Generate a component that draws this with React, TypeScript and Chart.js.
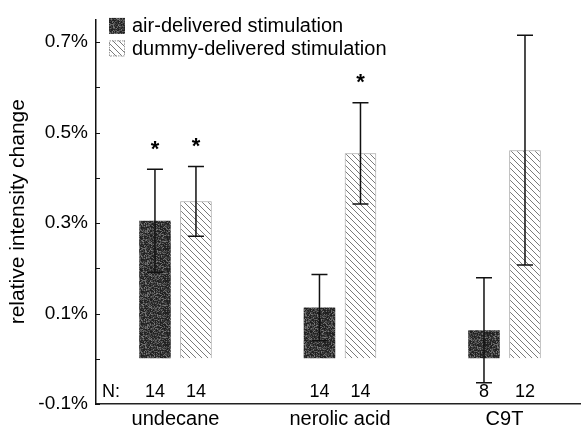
import { useEffect, useRef } from 'react';
import { Chart, registerables } from 'chart.js';

Chart.register(...registerables);

const categories = ['undecane', 'nerolic acid', 'C9T'];
const seriesLabels = ['air-delivered stimulation', 'dummy-delivered stimulation'];
const airMeans = [0.305, 0.113, 0.063];
const airErrors = [0.114, 0.073, 0.116];
const dummyMeans = [0.348, 0.454, 0.461];
const dummyErrors = [0.077, 0.112, 0.254];
const airN = [14, 14, 8];
const dummyN = [14, 14, 12];
const airSignificant = [true, false, false];
const dummySignificant = [true, true, false];
const yLabeledTicks = [-0.1, 0.1, 0.3, 0.5, 0.7];
const yTitle = 'relative intensity change';
const nPrefix = 'N:';

const FONT = '"Liberation Sans", Arial, Helvetica, sans-serif';

function makeStipple(): CanvasPattern | string {
  const S = 32;
  const c = document.createElement('canvas');
  c.width = S;
  c.height = S;
  const g = c.getContext('2d');
  if (!g) return '#3c3c3c';
  const img = g.createImageData(S, S);
  for (let j = 0; j < S; j++) {
    for (let i = 0; i < S; i++) {
      const s = Math.sin(i * 12.9898 + j * 78.233) * 43758.5453;
      const h = s - Math.floor(s);
      const v = Math.round(30 + h * h * 95);
      const k = (j * S + i) * 4;
      img.data[k] = v;
      img.data[k + 1] = v;
      img.data[k + 2] = v;
      img.data[k + 3] = 255;
    }
  }
  g.putImageData(img, 0, 0);
  const p = g.createPattern(c, 'repeat');
  return p || '#3c3c3c';
}

function makeHatch(): CanvasPattern | string {
  const s = 6;
  const c = document.createElement('canvas');
  c.width = s;
  c.height = s;
  const g = c.getContext('2d');
  if (!g) return '#eeeeee';
  g.fillStyle = '#ffffff';
  g.fillRect(0, 0, s, s);
  g.strokeStyle = '#7a7a7a';
  g.lineWidth = 1;
  g.beginPath();
  for (const k of [-s, 0, s]) {
    g.moveTo(k, 0);
    g.lineTo(k + s, s);
  }
  g.stroke();
  const p = g.createPattern(c, 'repeat');
  return p || '#eeeeee';
}

export default function App() {
  const ref = useRef<HTMLCanvasElement | null>(null);

  useEffect(() => {
    if (!ref.current) return;
    const stipple = makeStipple();
    const hatch = makeHatch();

    const annotate = {
      id: 'annotate',
      afterDatasetsDraw(chart: any) {
        const ctx = chart.ctx as CanvasRenderingContext2D;
        const ys = chart.scales.y;
        const area = chart.chartArea;
        const means = [airMeans, dummyMeans];
        const errs = [airErrors, dummyErrors];
        const sig = [airSignificant, dummySignificant];
        const ns = [airN, dummyN];
        ctx.save();
        for (let d = 0; d < 2; d++) {
          const meta = chart.getDatasetMeta(d);
          meta.data.forEach((el: any, i: number) => {
            const x = el.x;
            const top = ys.getPixelForValue(means[d][i] + errs[d][i]);
            const bot = ys.getPixelForValue(means[d][i] - errs[d][i]);
            ctx.strokeStyle = '#111';
            ctx.lineWidth = 1.5;
            ctx.beginPath();
            ctx.moveTo(x, top);
            ctx.lineTo(x, bot);
            ctx.moveTo(x - 8, top);
            ctx.lineTo(x + 8, top);
            ctx.moveTo(x - 8, bot);
            ctx.lineTo(x + 8, bot);
            ctx.stroke();
            ctx.fillStyle = '#000';
            if (sig[d][i]) {
              ctx.font = `bold 22px ${FONT}`;
              ctx.textAlign = 'center';
              ctx.textBaseline = 'alphabetic';
              ctx.fillText('*', x, top - 13.5);
            }
            ctx.font = `18px ${FONT}`;
            ctx.textAlign = 'center';
            ctx.textBaseline = 'middle';
            ctx.fillText(String(ns[d][i]), x, area.bottom - 12);
          });
        }
        ctx.fillStyle = '#000';
        ctx.font = `18px ${FONT}`;
        ctx.textAlign = 'left';
        ctx.textBaseline = 'middle';
        ctx.fillText(nPrefix, area.left + 6, area.bottom - 12);

        // inward tick marks on the y axis
        ctx.strokeStyle = '#111';
        ctx.lineWidth = 1;
        ctx.beginPath();
        ys.ticks.forEach((t: any) => {
          const py = Math.round(ys.getPixelForValue(t.value)) + 0.5;
          ctx.moveTo(area.left, py);
          ctx.lineTo(area.left + 4, py);
        });
        ctx.stroke();

        // legend
        const bx = area.left + 13;
        const rows = [
          { y: area.top - 1.5, fill: stipple, border: null as string | null },
          { y: area.top + 21, fill: hatch, border: '#9a9a9a' },
        ];
        rows.forEach((r, k) => {
          ctx.fillStyle = r.fill as any;
          ctx.fillRect(bx, r.y, 16, 16);
          if (r.border) {
            ctx.strokeStyle = r.border;
            ctx.lineWidth = 1;
            ctx.setLineDash([1.5, 1]);
            ctx.strokeRect(bx + 0.5, r.y + 0.5, 15, 15);
            ctx.setLineDash([]);
          }
          ctx.fillStyle = '#000';
          ctx.font = `20px ${FONT}`;
          ctx.textAlign = 'left';
          ctx.textBaseline = 'middle';
          ctx.fillText(seriesLabels[k], area.left + 36, r.y + 9);
        });
        ctx.restore();
      },
    };

    const chart = new Chart(ref.current, {
      type: 'bar',
      data: {
        datasets: [
          {
            label: seriesLabels[0],
            data: airMeans.map((v, i) => ({ x: i, y: v })),
            backgroundColor: stipple as any,
            borderWidth: 0,
            categoryPercentage: 0.4985,
            barPercentage: 0.77,
          },
          {
            label: seriesLabels[1],
            data: dummyMeans.map((v, i) => ({ x: i, y: v })),
            backgroundColor: hatch as any,
            borderColor: '#a0a0a0',
            borderWidth: 1,
            categoryPercentage: 0.4985,
            barPercentage: 0.77,
          },
        ],
      },
      options: {
        responsive: false,
        animation: false,
        devicePixelRatio: 1,
        layout: { padding: { top: 13, right: 1, left: 0, bottom: 0 } },
        plugins: {
          legend: { display: false },
          tooltip: { enabled: false },
        },
        scales: {
          x: {
            type: 'linear',
            offset: false,
            min: -0.483,
            max: 2.459,
            grid: { display: true, drawOnChartArea: false, drawTicks: false },
            border: { display: true, color: '#222', width: 1.5 },
            ticks: {
              stepSize: 1,
              includeBounds: false,
              padding: 3,
              color: '#000',
              font: { size: 20, family: FONT },
              callback: (v: any) => {
                const n = Number(v);
                return Number.isInteger(n) && categories[n] !== undefined ? categories[n] : '';
              },
            },
            afterFit: (s: any) => {
              s.height = 28;
            },
          },
          y: {
            type: 'linear',
            min: -0.1,
            max: 0.75,
            grid: { display: true, drawOnChartArea: false, drawTicks: false },
            border: { display: true, color: '#111', width: 1.5 },
            title: {
              display: true,
              text: yTitle,
              color: '#000',
              font: { size: 21, family: FONT },
              padding: { top: 6, bottom: 0 },
            },
            ticks: {
              stepSize: 0.1,
              includeBounds: false,
              padding: 8,
              color: '#000',
              font: { size: 19, family: FONT },
              callback: (v: any) => {
                const n = Number(v);
                const hit = yLabeledTicks.find((t) => Math.abs(t - n) < 1e-6);
                return hit !== undefined ? `${hit.toFixed(1)}%` : '';
              },
            },
            afterFit: (s: any) => {
              s.width = 96;
            },
          },
        },
      },
      plugins: [annotate],
    } as any);

    return () => chart.destroy();
  }, []);

  return (
    <div style={{ position: 'fixed', left: 0, top: 0, width: 581, height: 432, background: '#fff' }}>
      <canvas ref={ref} width={581} height={432} style={{ width: 581, height: 432, display: 'block' }} />
    </div>
  );
}
